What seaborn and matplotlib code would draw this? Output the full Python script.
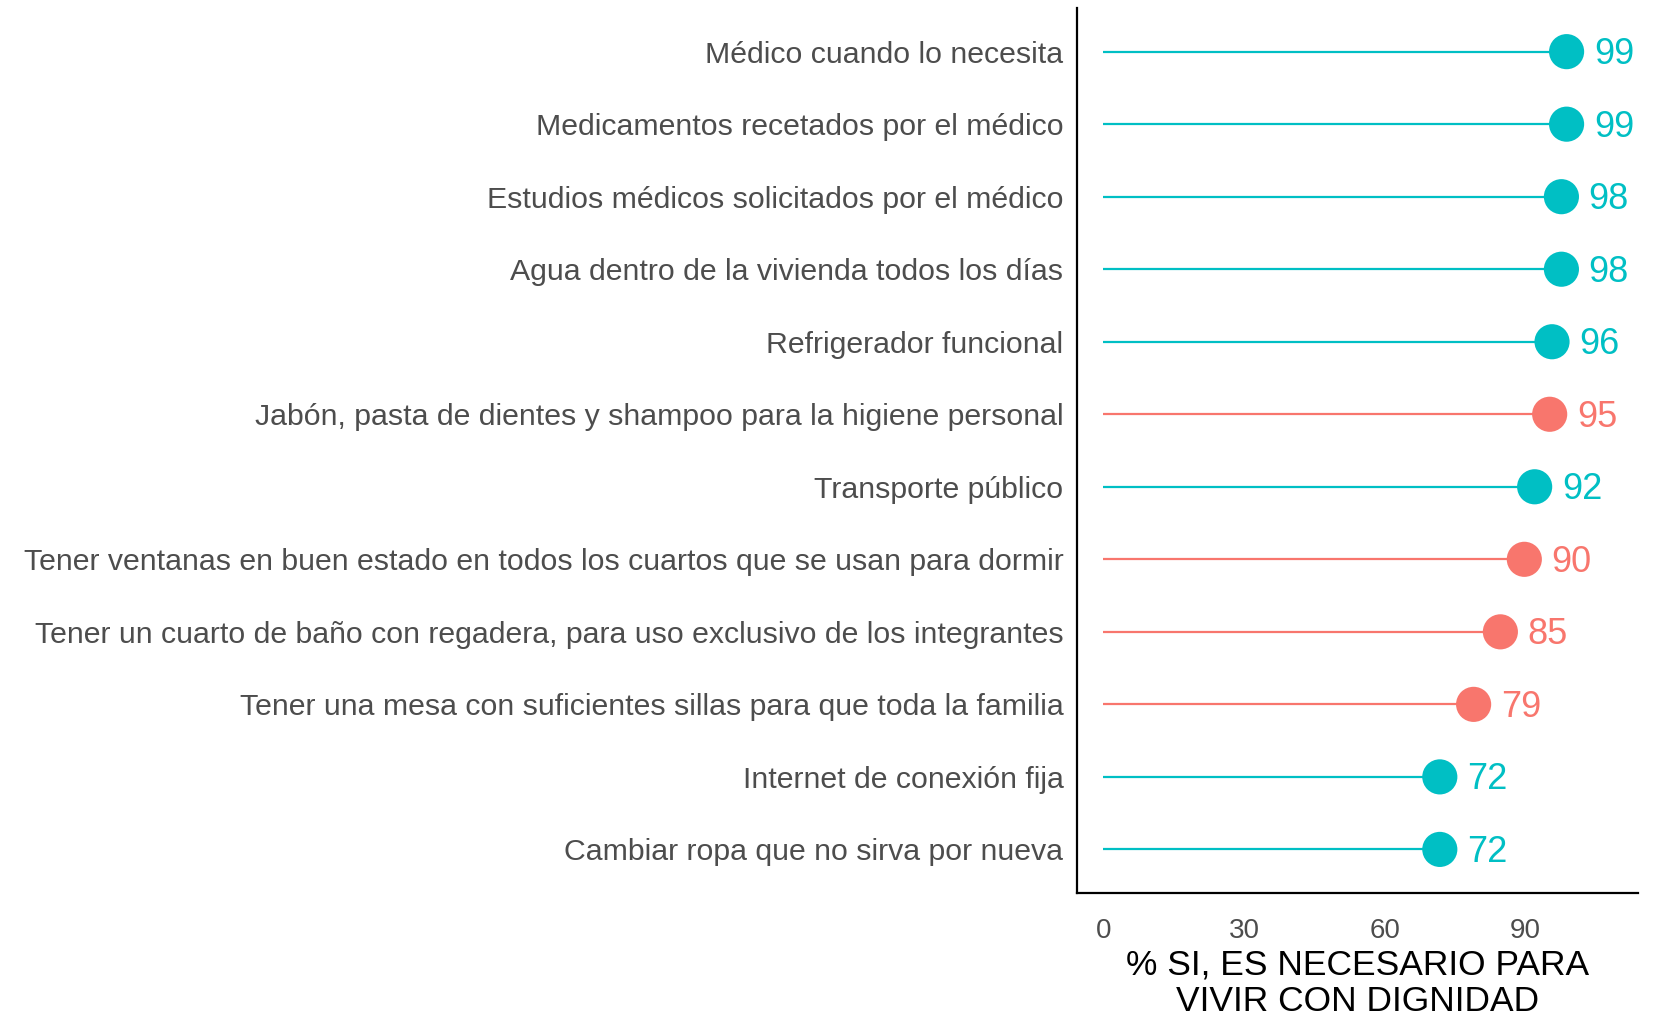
import matplotlib
matplotlib.use("Agg")
import matplotlib.pyplot as plt
import seaborn as sns
import pandas as pd

categories = [
    "Médico cuando lo necesita",
    "Medicamentos recetados por el médico",
    "Estudios médicos solicitados por el médico",
    "Agua dentro de la vivienda todos los días",
    "Refrigerador funcional",
    "Jabón, pasta de dientes y shampoo para la higiene personal",
    "Transporte público",
    "Tener ventanas en buen estado en todos los cuartos que se usan para dormir",
    "Tener un cuarto de baño con regadera, para uso exclusivo de los integrantes",
    "Tener una mesa con suficientes sillas para que toda la familia",
    "Internet de conexión fija",
    "Cambiar ropa que no sirva por nueva",
]
values = [98.7, 98.7, 97.6, 97.6, 95.6, 95.1, 91.9, 89.7, 84.6, 78.9, 71.7, 71.7]
groups = ["b", "b", "b", "b", "b", "a", "b", "a", "a", "a", "b", "b"]

palette = {"a": "#F8766D", "b": "#00BFC4"}

df = pd.DataFrame({"item": categories, "pct": values, "grp": groups})
df["pos"] = range(len(df))

sns.set_style("white")
plt.rcParams["font.family"] = ["Liberation Sans", "DejaVu Sans"]

fig = plt.figure(figsize=(16.6, 10.17), dpi=100)
ax = fig.add_axes([0.649, 0.122, 0.338, 0.870])

for _, row in df.iterrows():
    ax.hlines(row["pos"], 0, row["pct"], color=palette[row["grp"]], lw=1.6, zorder=1)

sns.scatterplot(data=df, x="pct", y="pos", hue="grp", palette=palette,
                s=640, edgecolor="none", legend=False, ax=ax, zorder=2)

# value labels next to the dots
for _, row in df.iterrows():
    ax.text(row["pct"] + 5.8, row["pos"] + 0.04, f"{row['pct']:.0f}",
            color=palette[row["grp"]], fontsize=26, va="center", ha="left")

ax.set_xlim(-5.5, 114)
ax.set_ylim(11.6, -0.6)
ax.set_xticks([0, 30, 60, 90])
ax.set_yticks(df["pos"])
ax.set_yticklabels(df["item"])
ax.tick_params(axis="both", colors="#333333", labelcolor="#4D4D4D",
               labelsize=20, length=6, width=1.2, direction="out")
ax.tick_params(axis="y", pad=4, labelsize=21.8)
ax.tick_params(axis="x", pad=12)
ax.set_xlabel("% SI, ES NECESARIO PARA\nVIVIR CON DIGNIDAD", fontsize=25.5,
              color="black", labelpad=3, linespacing=1.15)
ax.set_ylabel("")

sns.despine(ax=ax)
for side in ["left", "bottom"]:
    ax.spines[side].set_color("black")
    ax.spines[side].set_linewidth(1.6)

fig.savefig("out.png", dpi=100)
